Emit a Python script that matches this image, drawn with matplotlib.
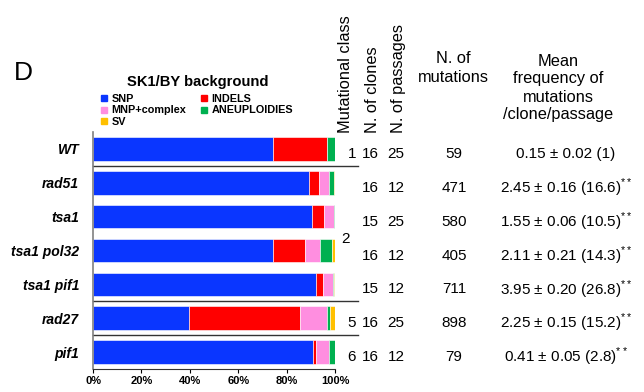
import matplotlib
matplotlib.use('Agg')
import matplotlib.pyplot as plt
import matplotlib.transforms as mtransforms
from matplotlib.lines import Line2D
import numpy as np

plt.rcParams['font.family'] = ['Liberation Sans', 'DejaVu Sans']
plt.rcParams['mathtext.fontset'] = 'custom'
plt.rcParams['mathtext.rm'] = 'Liberation Sans'

strains = ['WT', 'rad51', 'tsa1', 'tsa1 pol32', 'tsa1 pif1', 'rad27', 'pif1']
categories = ['SNP', 'INDELS', 'MNP+complex', 'ANEUPLOIDIES', 'SV']
colors = ['#0a36ff', '#ff0000', '#ff8ee0', '#00b050', '#ffc000']

# percentage of each mutation type per strain
snp = [74.5, 89.2, 90.7, 74.3, 92.1, 39.8, 90.9]
indels = [22.0, 4.3, 4.6, 13.3, 2.8, 45.7, 1.2]
mnp = [0.0, 4.1, 4.3, 6.0, 4.4, 11.2, 5.3]
aneu = [3.5, 1.8, 0.4, 5.3, 0.2, 1.2, 2.6]
sv = [0.0, 0.6, 0.0, 1.1, 0.5, 2.1, 0.0]

mut_class = ['1', '2', '5', '6']
class_rows = [0, 2.5, 5, 6]
n_clones = [16, 16, 15, 16, 15, 16, 16]
n_passages = [25, 12, 25, 12, 12, 25, 12]
n_mutations = [59, 471, 580, 405, 711, 898, 79]
mean_freq = ['0.15 ± 0.02 (1)',
             '2.45 ± 0.16 (16.6)$^{**}$',
             '1.55 ± 0.06 (10.5)$^{**}$',
             '2.11 ± 0.21 (14.3)$^{**}$',
             '3.95 ± 0.20 (26.8)$^{**}$',
             '2.25 ± 0.15 (15.2)$^{**}$',
             '0.41 ± 0.05 (2.8)$^{**}$']
xticks = [0, 20, 40, 60, 80, 100]

W, H = 644, 392
fig = plt.figure(figsize=(W / 100, H / 100), dpi=100)
ax = fig.add_axes([93 / W, 1 - 369 / H, 242 / W, 237 / H])

series = [snp, indels, mnp, aneu, sv]
y = np.arange(len(strains))
left = np.zeros(len(strains))
for vals, c in zip(series, colors):
    ax.barh(y, vals, left=left, height=0.7, color=c, edgecolor='white', linewidth=0.4)
    left += np.array(vals)

ax.set_xlim(0, 100)
ax.set_ylim(6.5, -0.5)
ax.set_yticks(y)
ax.set_yticklabels(strains, fontweight='bold', fontstyle='italic', fontsize=10)
ax.tick_params(axis='y', length=0, pad=10)
ax.set_xticks(xticks)
ax.set_xticklabels([f'{t}%' for t in xticks], fontweight='bold', fontsize=8)
ax.tick_params(axis='x', length=3, width=0.8, pad=2)
for s in ['top', 'right']:
    ax.spines[s].set_visible(False)
ax.spines['left'].set_color('#808080')
ax.spines['left'].set_linewidth(1.2)
ax.spines['bottom'].set_color('#333333')

# group separators
for yy in [0.5, 4.5, 5.5]:
    ax.plot([0, 109.5], [yy, yy], color='#333333', lw=1.0, clip_on=False)

# table columns
tr = mtransforms.blended_transform_factory(fig.transFigure, ax.transData)
off = 0.15
for lab, r in zip(mut_class, class_rows):
    xp = 346 if lab == '2' else 352
    ax.text(xp / W, r + off, lab, transform=tr, ha='center', va='center', fontsize=11)
for i in range(len(strains)):
    ax.text(370 / W, i + off, str(n_clones[i]), transform=tr, ha='center', va='center', fontsize=11)
    ax.text(396 / W, i + off, str(n_passages[i]), transform=tr, ha='center', va='center', fontsize=11)
    ax.text(454 / W, i + off, str(n_mutations[i]), transform=tr, ha='center', va='center', fontsize=11)
    ax.text(566 / W, i + off, mean_freq[i], transform=tr, ha='center', va='center', fontsize=11)

# headers
for xp, t in [(346, 'Mutational class'), (373, 'N. of clones'), (399, 'N. of passages')]:
    fig.text(xp / W, 1 - 133 / H, t, rotation=90, ha='center', va='bottom', fontsize=11.8)
fig.text(453 / W, 1 - 68 / H, 'N. of\nmutations', ha='center', va='center', fontsize=11.8,
         linespacing=1.3)
fig.text(558 / W, 1 - 88 / H, 'Mean\nfrequency of\nmutations\n/clone/passage', ha='center',
         va='center', fontsize=11.8, linespacing=1.25)

fig.text(14 / W, 1 - 73 / H, 'D', ha='left', va='center', fontsize=19)
fig.text(198 / W, 1 - 82 / H, 'SK1/BY background', ha='center', va='center',
         fontsize=10.6, fontweight='bold')

# legend: order so rows read SNP/INDELS, MNP/ANEUPLOIDIES, SV
order = [0, 2, 4, 1, 3]
handles = [Line2D([], [], marker='s', ls='', color=colors[k], markersize=4.5) for k in order]
labels = [categories[k] for k in order]
fig.legend(handles, labels, loc='upper left', bbox_to_anchor=(101 / W, 1 - 94 / H), ncol=2,
           frameon=False, borderpad=0, borderaxespad=0, handlelength=0.6, handletextpad=0.35,
           labelspacing=0.12, columnspacing=1.4, prop={'weight': 'bold', 'size': 7.8})

fig.savefig('out.png', dpi=100)
